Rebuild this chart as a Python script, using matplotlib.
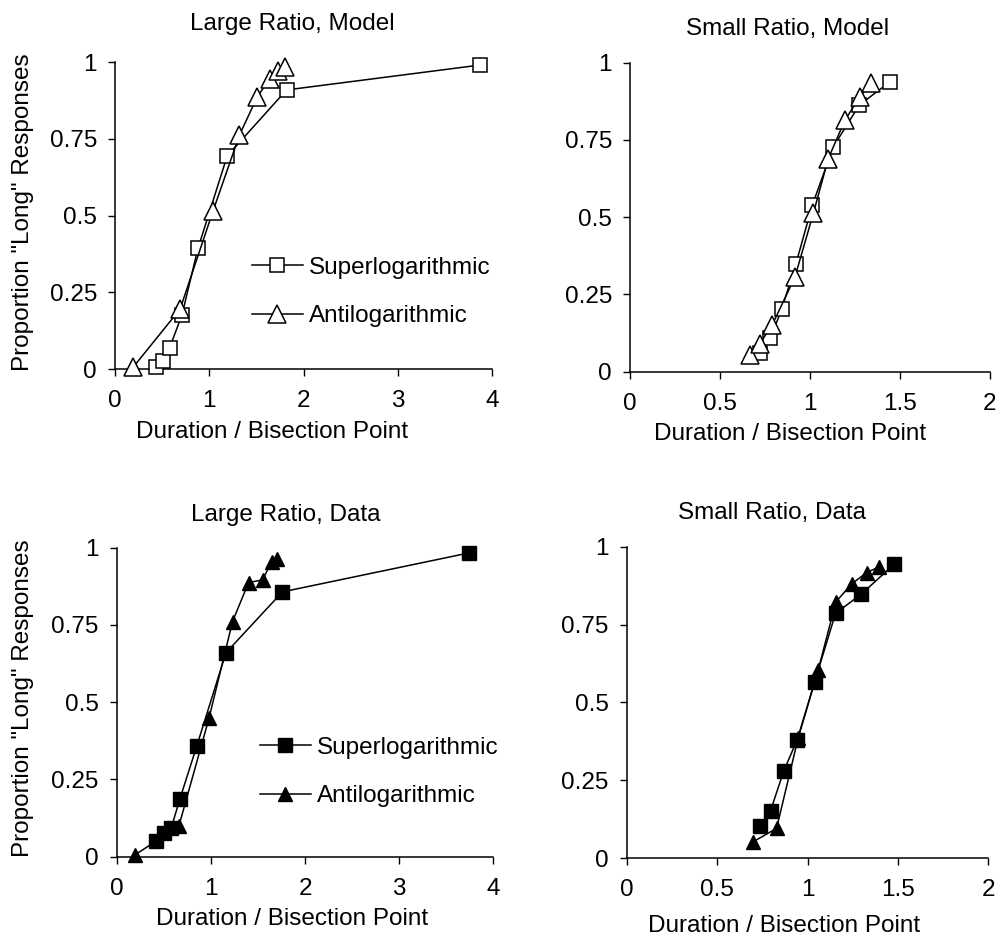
import matplotlib
matplotlib.use("Agg")
import matplotlib.pyplot as plt

plt.rcParams['font.family'] = ['Liberation Sans', 'DejaVu Sans']

# Large ratio, model
sup_lm_x = [0.43, 0.51, 0.58, 0.71, 0.88, 1.19, 1.82, 3.87]
sup_lm_y = [0.007, 0.027, 0.07, 0.176, 0.393, 0.694, 0.909, 0.99]
anti_lm_x = [0.19, 0.69, 1.04, 1.32, 1.51, 1.64, 1.73, 1.80]
anti_lm_y = [0.005, 0.195, 0.515, 0.762, 0.887, 0.945, 0.97, 0.985]

# Small ratio, model
sup_sm_x = [0.72, 0.78, 0.843, 0.922, 1.013, 1.13, 1.274, 1.444]
sup_sm_y = [0.06, 0.108, 0.202, 0.349, 0.539, 0.728, 0.863, 0.938]
anti_sm_x = [0.667, 0.72, 0.79, 0.917, 1.019, 1.102, 1.194, 1.278, 1.337]
anti_sm_y = [0.054, 0.09, 0.151, 0.307, 0.513, 0.69, 0.814, 0.89, 0.935]

# Large ratio, data
sup_ld_x = [0.42, 0.50, 0.58, 0.67, 0.85, 1.16, 1.76, 3.74]
sup_ld_y = [0.05, 0.078, 0.094, 0.186, 0.358, 0.66, 0.857, 0.983]
anti_ld_x = [0.19, 0.66, 0.98, 1.23, 1.40, 1.55, 1.645, 1.70]
anti_ld_y = [0.005, 0.099, 0.448, 0.761, 0.887, 0.896, 0.955, 0.963]

# Small ratio, data
sup_sd_x = [0.74, 0.796, 0.869, 0.943, 1.04, 1.155, 1.298, 1.48]
sup_sd_y = [0.104, 0.153, 0.281, 0.38, 0.567, 0.786, 0.848, 0.944]
anti_sd_x = [0.70, 0.829, 0.948, 1.059, 1.157, 1.244, 1.327, 1.396]
anti_sd_y = [0.053, 0.096, 0.385, 0.604, 0.823, 0.88, 0.917, 0.935]

y_ticks = [0, 0.25, 0.5, 0.75, 1]
y_tick_labels = ['0', '0.25', '0.5', '0.75', '1']
large_ticks = [0, 1, 2, 3, 4]
large_tick_labels = ['0', '1', '2', '3', '4']
small_ticks = [0, 0.5, 1, 1.5, 2]
small_tick_labels = ['0', '0.5', '1', '1.5', '2']

FS = 17.5
fig = plt.figure(figsize=(9.96, 9.38), dpi=100)

panels = [
    # rect, title, title pos (px), xlabel pos (px), ticks, labels, data, filled, legend anchor
    ([0.1155, 0.6066, 0.3785, 0.3273], 'Large Ratio, Model', (292, 24), (272, 432),
     large_ticks, large_tick_labels, (sup_lm_x, sup_lm_y, anti_lm_x, anti_lm_y), False, (0.363, 0.365)),
    ([0.6325, 0.6037, 0.3614, 0.3294], 'Small Ratio, Model', (788, 29), (790, 434),
     small_ticks, small_tick_labels, (sup_sm_x, sup_sm_y, anti_sm_x, anti_sm_y), False, None),
    ([0.1172, 0.0867, 0.3781, 0.3294], 'Large Ratio, Data', (286, 515), (292, 919),
     large_ticks, large_tick_labels, (sup_ld_x, sup_ld_y, anti_ld_x, anti_ld_y), True, (0.380, 0.388)),
    ([0.6292, 0.0850, 0.3631, 0.3322], 'Small Ratio, Data', (772, 513), (784, 926),
     small_ticks, small_tick_labels, (sup_sd_x, sup_sd_y, anti_sd_x, anti_sd_y), True, None),
]

W, H = 996.0, 938.0
for rect, title, tpos, xlpos, xt, xtl, data, filled, leg_anchor in panels:
    ax = fig.add_axes(rect)
    sx, sy, tx, ty = data
    if filled:
        ax.plot(sx, sy, '-', color='black', lw=1.1, marker='s', ms=9.5,
                mfc='black', mec='black', clip_on=False, label='Superlogarithmic', zorder=3)
        ax.plot(tx, ty, '-', color='black', lw=1.1, marker='^', ms=10,
                mfc='black', mec='black', clip_on=False, label='Antilogarithmic', zorder=3)
    else:
        ax.plot(sx, sy, '-', color='black', lw=1.1, marker='s', ms=10,
                mfc='white', mec='black', mew=1.1, clip_on=False, label='Superlogarithmic', zorder=3)
        ax.plot(tx, ty, '-', color='black', lw=1.1, marker='^', ms=13,
                mfc='white', mec='black', mew=1.1, clip_on=False, label='Antilogarithmic', zorder=3)

    ax.set_xlim(xt[0], xt[-1])
    ax.set_ylim(0, 1)
    ax.set_xticks(xt)
    ax.set_xticklabels(xtl, fontsize=FS)
    ax.set_yticks(y_ticks)
    ax.set_yticklabels(y_tick_labels, fontsize=FS)
    ax.tick_params(direction='out', length=5, width=1)
    ax.tick_params(axis='x', pad=10)
    ax.tick_params(axis='y', pad=8)
    for side in ('top', 'right'):
        ax.spines[side].set_visible(False)
    for side in ('left', 'bottom'):
        ax.spines[side].set_linewidth(1.1)

    fig.text(tpos[0] / W, 1 - tpos[1] / H, title, ha='center', va='center', fontsize=FS)
    fig.text(xlpos[0] / W, 1 - xlpos[1] / H, 'Duration / Bisection Point',
             ha='center', va='center', fontsize=FS)
    if rect[0] < 0.5:
        ycen = rect[1] + rect[3] / 2 + 0.004
        fig.text(23 / W, ycen, 'Proportion "Long" Responses', rotation=90,
                 ha='center', va='center', fontsize=FS)

    if leg_anchor is not None:
        ax.legend(loc='upper left', bbox_to_anchor=leg_anchor, frameon=False,
                  fontsize=FS, handlelength=2.1, handletextpad=0.25,
                  labelspacing=1.08, borderpad=0, borderaxespad=0)

fig.savefig('out.png', dpi=100)
